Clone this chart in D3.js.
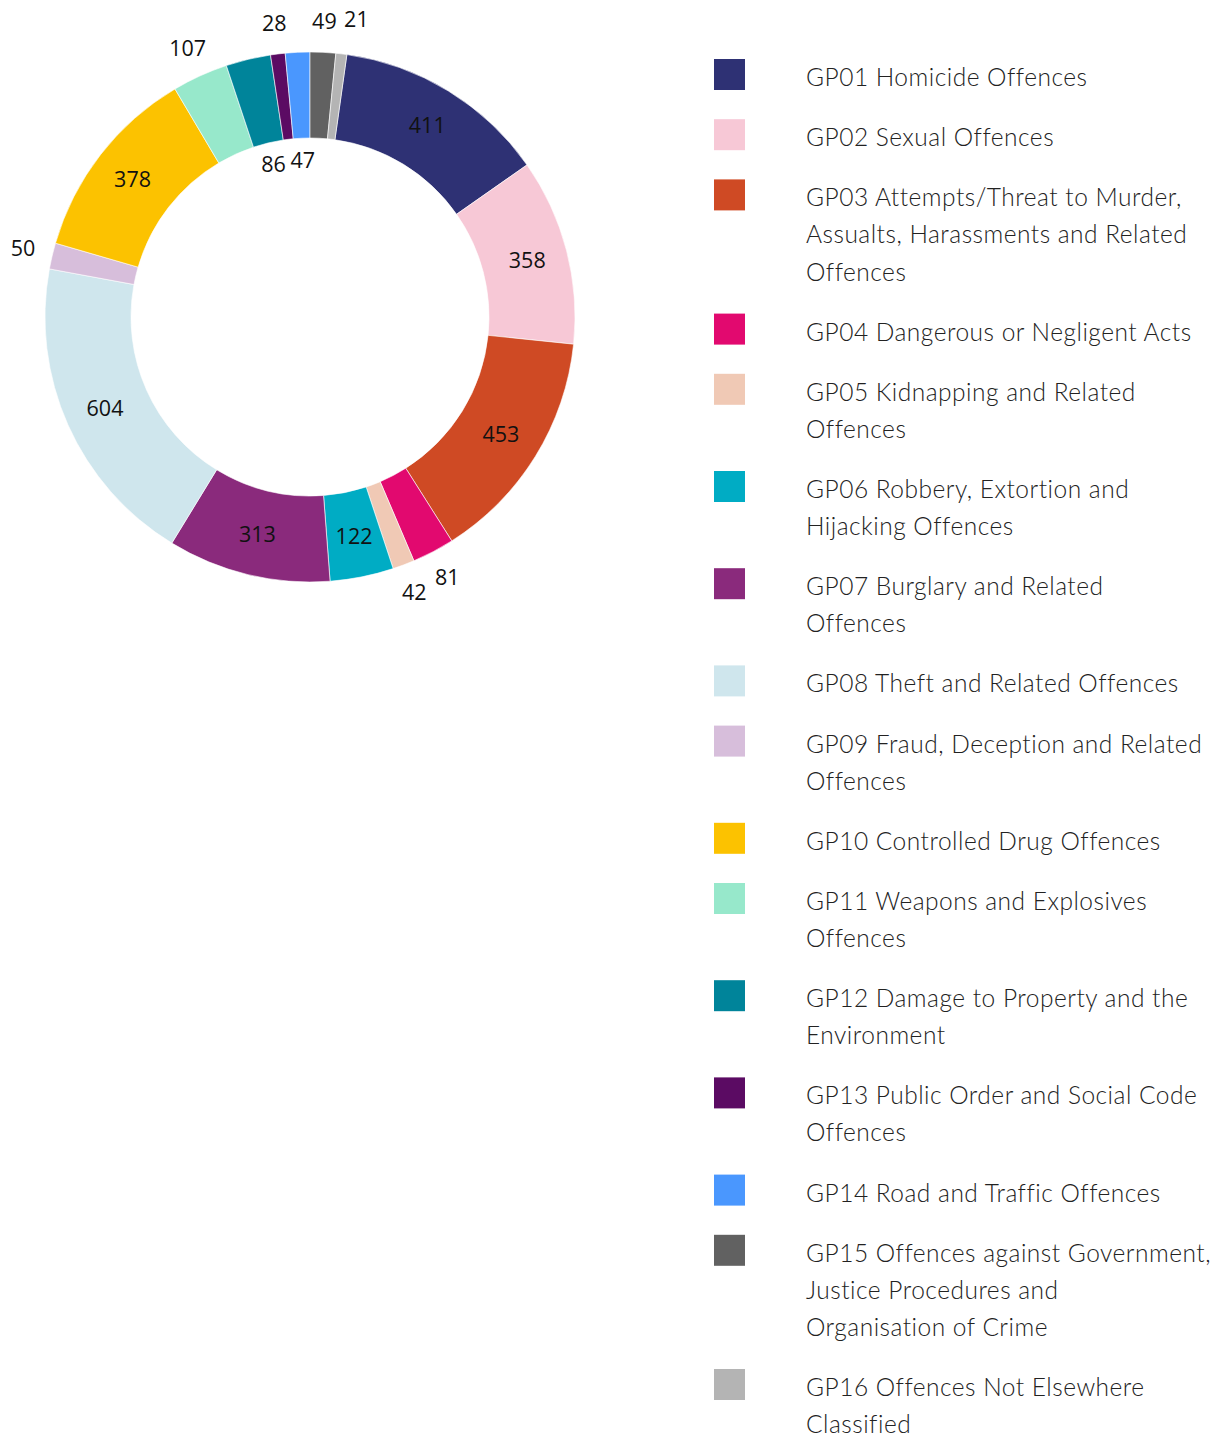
<!DOCTYPE html>
<html lang="en">
<head>
    <meta charset="UTF-8">
    <title>Offences by group</title>
    <script src="https://d3js.org/d3.v7.min.js"></script>
    <style>
        body { margin: 0; background: #fff; }
        .slice-label { font-family: "Open Sans", sans-serif; font-size: 21.5px; fill: #111; text-anchor: middle; }
        .legend-text { font-family: Lato, "Open Sans", sans-serif; font-size: 24.5px; font-weight: 300;
                       letter-spacing: 0.5px; fill: #222; }
    </style>
</head>
<body>
    <svg width="1230" height="1439"></svg>
    <script>
        const categories = [
            "GP01 Homicide Offences",
            "GP02 Sexual Offences",
            "GP03 Attempts/Threat to Murder,\nAssualts, Harassments and Related\nOffences",
            "GP04 Dangerous or Negligent Acts",
            "GP05 Kidnapping and Related\nOffences",
            "GP06 Robbery, Extortion and\nHijacking Offences",
            "GP07 Burglary and Related\nOffences",
            "GP08 Theft and Related Offences",
            "GP09 Fraud, Deception and Related\nOffences",
            "GP10 Controlled Drug Offences",
            "GP11 Weapons and Explosives\nOffences",
            "GP12 Damage to Property and the\nEnvironment",
            "GP13 Public Order and Social Code\nOffences",
            "GP14 Road and Traffic Offences",
            "GP15 Offences against Government,\nJustice Procedures and\nOrganisation of Crime",
            "GP16 Offences Not Elsewhere\nClassified"
        ];
        const values = [411, 358, 453, 81, 42, 122, 313, 604, 50, 378, 107, 86, 28, 47, 49, 21];
        const colors = ["#2e3174", "#f7c8d6", "#cf4a24", "#e2096f", "#f0c9b5", "#00acc4", "#8a2a7c", "#cfe6ed",
                        "#d7bedb", "#fcc200", "#97e8cb", "#00849a", "#5b0b63", "#4a97fe", "#616161", "#b4b4b4"];
        // where each value label goes: inside the ring, outside it, or in the hole
        const labelPlace = ["in", "in", "in", "out", "out", "in", "in", "in",
                            "out", "in", "out", "hole", "out", "hole", "out", "out"];

        const data = categories.map((c, i) => ({ name: c, value: values[i], color: colors[i], place: labelPlace[i] }));

        const svg = d3.select("svg");
        const cx = 310, cy = 317, outerR = 265, innerR = 179;

        // the last two groups sit just left of 12 o'clock, so the ring starts after them
        const total = d3.sum(values);
        const offset = 2 * Math.PI * (values[14] + values[15]) / total;

        const pie = d3.pie().value(d => d.value).sort(null)
            .startAngle(offset).endAngle(offset + 2 * Math.PI);
        const arcs = pie(data);

        const arc = d3.arc().innerRadius(innerR).outerRadius(outerR);
        const labelArc = d3.arc().innerRadius(184).outerRadius(265);
        const g = svg.append("g").attr("transform", `translate(${cx},${cy})`);

        g.selectAll("path")
            .data(arcs)
            .enter().append("path")
            .attr("d", arc)
            .attr("fill", d => d.data.color)
            .attr("stroke", "#fff")
            .attr("stroke-width", 0.6);

        const outArc = d3.arc().innerRadius(295).outerRadius(295);
        const holeArc = d3.arc().innerRadius(156).outerRadius(156);

        const labels = arcs.map(d => {
            const a = d.data.place === "in" ? labelArc : d.data.place === "out" ? outArc : holeArc;
            const [x, y] = a.centroid(d);
            return { d, x, y };
        });

        // nudge outside labels that would collide
        const outs = labels.filter(l => l.d.data.place === "out").sort((a, b) => a.d.startAngle - b.d.startAngle);
        for (let k = 1; k < outs.length; k++) {
            const p = outs[k - 1], q = outs[k];
            const w = 32;
            if (Math.abs(q.y - p.y) < 14 && Math.abs(q.x - p.x) < w) {
                q.x += (q.x >= p.x ? 1 : -1) * (w - Math.abs(q.x - p.x));
                q.y -= 4;
            }
        }

        g.selectAll(".slice-label")
            .data(labels)
            .enter().append("text")
            .attr("class", "slice-label")
            .attr("x", l => l.x)
            .attr("y", l => l.y)
            .attr("dy", "0.33em")
            .text(l => l.d.value);

        // legend
        const legend = svg.append("g").attr("transform", "translate(714,59)");
        let yPos = 0;
        data.forEach(d => {
            const lines = d.name.split("\n");
            const item = legend.append("g").attr("transform", `translate(0,${yPos})`);
            item.append("rect").attr("width", 31).attr("height", 31).attr("fill", d.color);
            const t = item.append("text").attr("class", "legend-text").attr("x", 92).attr("y", 27);
            lines.forEach((ln, i) => {
                t.append("tspan").attr("x", 92).attr("dy", i === 0 ? 0 : 37.1).text(ln);
            });
            yPos += 60.2 + 37 * (lines.length - 1);
        });
    </script>
</body>
</html>
